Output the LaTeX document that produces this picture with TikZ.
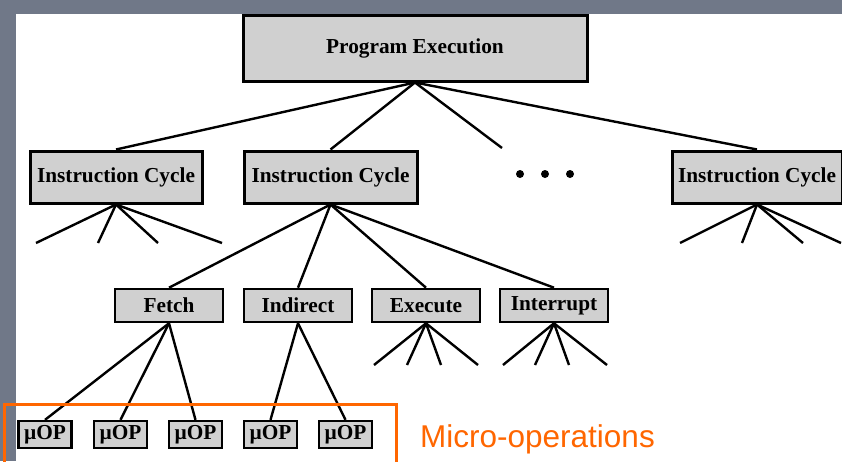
\documentclass[tikz,border=0pt]{standalone}
\usepackage{fontspec}
\setmainfont{Liberation Serif}
\newfontfamily\arialf{Liberation Sans}
\definecolor{framegray}{RGB}{112,120,136}
\definecolor{boxgray}{RGB}{208,208,208}
\definecolor{orng}{RGB}{255,102,0}
\tikzset{
  boxbase/.style={draw, fill=boxgray, inner sep=0pt, font=\bfseries\fontsize{21.3}{21.3}\selectfont},
  bigbox/.style={boxbase, line width=3pt},
  midbox/.style={boxbase, line width=2.6pt, minimum width=108pt, minimum height=33pt},
  uopbox/.style={boxbase, line width=2.3pt, minimum width=53pt, minimum height=27pt},
  icbox/.style={bigbox, minimum height=52pt},
  link/.style={line width=2.4pt},
}
\begin{document}
\begin{tikzpicture}[x=1pt,y=-1pt]
\useasboundingbox (0,0) rectangle (842,461);
\fill[framegray] (0,0) rectangle (842,14);
\fill[framegray] (0,0) rectangle (16,461);

% top
\node[bigbox, minimum width=344pt, minimum height=66pt] (pe) at (415,48) {Program Execution};
% instruction cycles
\node[icbox, minimum width=172pt] (ic1) at (116,177) {Instruction Cycle};
\node[icbox, minimum width=173pt] (ic2) at (330.5,177) {Instruction Cycle};
\node[icbox, minimum width=170pt] (ic3) at (757,177) {Instruction Cycle};
\coordinate (dotend) at (502,148);
\foreach \x in {520,545,570} \fill (\x,174) circle (4pt);

\draw[link] (pe.south) -- (ic1.north);
\draw[link] (pe.south) -- (ic2.north);
\draw[link] (pe.south) -- (dotend);
\draw[link] (pe.south) -- (ic3.north);

% stubs of ic1 and ic3
\foreach \x [count=\i] in {36,98,158,222} \coordinate (ia\i) at (\x,243);
\foreach \i in {1,...,4} \draw[link] (ic1.south) -- (ia\i);
\foreach \x [count=\i] in {680,742,803,841} \coordinate (ib\i) at (\x,243);
\foreach \i in {1,...,4} \draw[link] (ic3.south) -- (ib\i);

% phases
\node[midbox] (fetch) at (169,305.5) {Fetch};
\node[midbox] (indirect) at (298,305.5) {Indirect};
\node[midbox] (execute) at (426,305.5) {Execute};
\node[midbox] (interrupt) at (554,305.5) {Interrupt};
\foreach \n in {fetch,indirect,execute,interrupt} \draw[link] (ic2.south) -- (\n.north);

\foreach \x [count=\i] in {374,407,441,478} \coordinate (ea\i) at (\x,365);
\foreach \i in {1,...,4} \draw[link] (execute.south) -- (ea\i);
\foreach \x [count=\i] in {503,535,569,607} \coordinate (eb\i) at (\x,365);
\foreach \i in {1,...,4} \draw[link] (interrupt.south) -- (eb\i);

% micro-ops
\node[uopbox] (u1) at (45,434.5) {µOP};
\node[uopbox] (u2) at (120.5,434.5) {µOP};
\node[uopbox] (u3) at (195.5,434.5) {µOP};
\node[uopbox] (u4) at (270.5,434.5) {µOP};
\node[uopbox] (u5) at (345.5,434.5) {µOP};
\draw[link] (fetch.south) -- (u1.north);
\draw[link] (fetch.south) -- (u2.north);
\draw[link] (fetch.south) -- (u3.north);
\draw[link] (indirect.south) -- (u4.north);
\draw[link] (indirect.south) -- (u5.north);

% highlight
\draw[orng, line width=3pt] (4,470) -- (4,404) -- (396,404) -- (396,470);
\node[anchor=base west, inner sep=0pt, text=orng, font=\arialf\fontsize{31.5}{31.5}\selectfont] (mlabel) at (420,447) {Micro-operations};
\end{tikzpicture}
\end{document}
